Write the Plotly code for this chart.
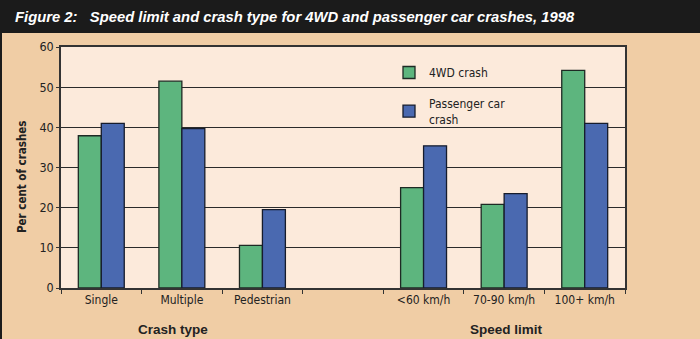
import plotly.graph_objects as go

categories = ["Single", "Multiple", "Pedestrian", " ", "<60 km/h", "70-90 km/h", "100+ km/h"]
wd4_crash = [37.9, 51.5, 10.6, None, 25.0, 20.8, 54.2]
passenger_crash = [41.0, 39.7, 19.5, None, 35.4, 23.5, 41.0]
series_names = ["4WD crash", "Passenger car<br>crash"]
y_ticks = [0, 10, 20, 30, 40, 50, 60]

PANEL = "#F0CDA5"
PLOTBG = "#FCEADB"
GREEN = "#5DB57E"
BLUE = "#4A69B0"
NARROW = "DejaVu Sans Condensed, Liberation Sans Narrow, sans-serif"
SANS = "Liberation Sans, Arial, sans-serif"

# pixel geometry of plot area
L, R, T, B = 61, 625, 47, 288
W, H = 700, 339
def px(x):
    return (x - L) / (R - L)
def py(y):
    return (B - y) / (B - T)

fig = go.Figure()
fig.add_trace(go.Bar(x=categories, y=wd4_crash, name=series_names[0],
                     marker=dict(color=GREEN, line=dict(color="#1e2a24", width=1.3)),
                     legendgroup="a"))
fig.add_trace(go.Bar(x=categories, y=passenger_crash, name=series_names[1],
                     marker=dict(color=BLUE, line=dict(color="#161c2c", width=1.3)),
                     legendgroup="b"))

fig.update_layout(
    width=W, height=H,
    margin=dict(l=L, r=W - R, t=T, b=H - B),
    paper_bgcolor=PANEL,
    plot_bgcolor=PLOTBG,
    barmode="group",
    bargap=0.43,
    bargroupgap=0,
    font=dict(family=NARROW, size=12, color="#222"),
    showlegend=True,
    legend=dict(x=px(389), y=py(58), xanchor="left", yanchor="top",
                bgcolor="rgba(0,0,0,0)", borderwidth=0, tracegroupgap=12,
                font=dict(family=NARROW, size=12, color="#222"),
                itemwidth=30),
    xaxis=dict(type="category", categoryorder="array", categoryarray=categories,
               tickson="boundaries", ticks="outside", ticklen=4, tickcolor="#333",
               showline=True, linecolor="#333", linewidth=1.5, mirror=True,
               showgrid=False, tickfont=dict(family=NARROW, size=12, color="#222")),
    yaxis=dict(range=[0, 60], tickvals=y_ticks, ticks="outside", ticklen=3,
               tickcolor="#333", showline=True, linecolor="#333", linewidth=1.5,
               mirror=True, showgrid=True, gridcolor="#2a2a2a", gridwidth=1,
               zeroline=False, tickfont=dict(family=NARROW, size=12.5, color="#222")),
)

shapes = [
    dict(type="rect", xref="paper", yref="paper", x0=px(-5), x1=px(W + 5),
         y0=py(33), y1=py(-5), fillcolor="#1b1b1b", line=dict(width=0), layer="above"),
    dict(type="rect", xref="paper", yref="paper", x0=px(-5), x1=px(2),
         y0=py(H + 5), y1=py(33), fillcolor="#1b1b1b", line=dict(width=0), layer="above"),
    # background patch behind the legend, hiding the 50 gridline
    dict(type="rect", xref="paper", yref="paper", x0=px(400), x1=px(495),
         y0=py(95), y1=py(80), fillcolor=PLOTBG, line=dict(width=0), layer="between"),
]
fig.update_layout(shapes=shapes)

annotations = [
    dict(text="Figure 2:   Speed limit and crash type for 4WD and passenger car crashes, 1998",
         xref="paper", yref="paper", x=px(13), y=py(17), xanchor="left", yanchor="middle",
         showarrow=False,
         font=dict(family=SANS, size=14.8, color="white", weight="bold", style="italic")),
    dict(text="Per cent of crashes", xref="paper", yref="paper", x=px(22), y=py(177),
         textangle=-90, showarrow=False, xanchor="center", yanchor="middle",
         font=dict(family=NARROW, size=11.5, color="#222", weight="bold")),
    dict(text="Crash type", xref="paper", yref="paper", x=px(173), y=py(329),
         showarrow=False, xanchor="center", yanchor="middle",
         font=dict(family=SANS, size=13.5, color="#222", weight="bold")),
    dict(text="Speed limit", xref="paper", yref="paper", x=px(506), y=py(329),
         showarrow=False, xanchor="center", yanchor="middle",
         font=dict(family=SANS, size=13.5, color="#222", weight="bold")),
]
fig.update_layout(annotations=annotations)

fig.write_html("out.html")
